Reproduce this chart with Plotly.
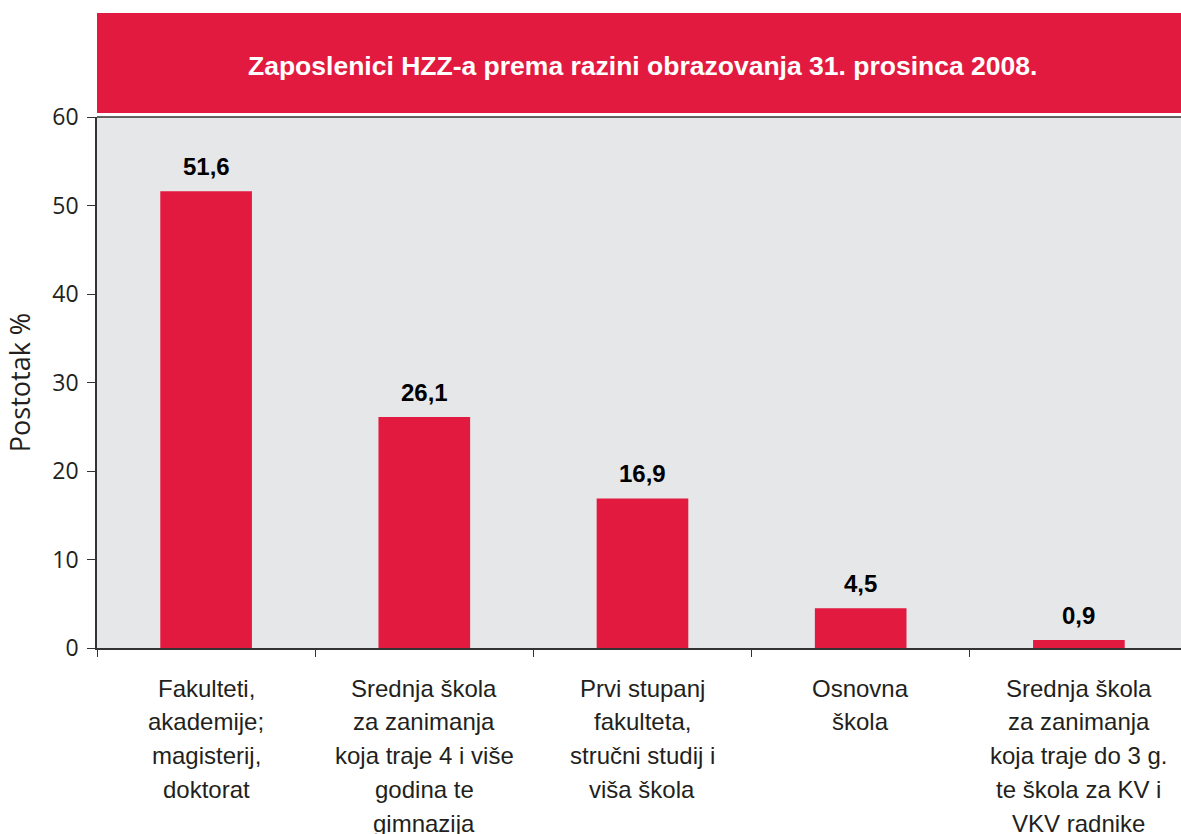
import plotly.graph_objects as go

categories = [
    "Fakulteti, akademije; magisterij, doktorat",
    "Srednja škola za zanimanja koja traje 4 i više godina te gimnazija",
    "Prvi stupanj fakulteta, stručni studij i viša škola",
    "Osnovna škola",
    "Srednja škola za zanimanja koja traje do 3 g. te škola za KV i VKV radnike",
]
label_lines = [
    ["Fakulteti,", "akademije;", "magisterij,", "doktorat"],
    ["Srednja škola", "za zanimanja", "koja traje 4 i više", "godina te", "gimnazija"],
    ["Prvi stupanj", "fakulteta,", "stručni studij i", "viša škola"],
    ["Osnovna", "škola"],
    ["Srednja škola", "za zanimanja", "koja traje do 3 g.", "te škola za KV i", "VKV radnike"],
]
values = [51.6, 26.1, 16.9, 4.5, 0.9]
value_labels = ["51,6", "26,1", "16,9", "4,5", "0,9"]
title_text = "Zaposlenici HZZ-a prema razini obrazovanja 31. prosinca 2008."

RED = "#E31A3F"
BG = "#E6E7E9"
FONT = "Liberation Sans, Arial, sans-serif"
AXFONT = "Open Sans, sans-serif"

fig = go.Figure()
fig.add_trace(go.Bar(
    x=categories, y=values, marker=dict(color=RED, line=dict(width=0)),
    width=0.42, hoverinfo="skip",
))

# value labels above bars
for c, v, t in zip(categories, values, value_labels):
    fig.add_annotation(x=c, y=v, xref="x", yref="y", text="<b>%s</b>" % t,
                       showarrow=False, yanchor="bottom", yshift=9,
                       font=dict(family=FONT, size=24, color="#000000"))

# category labels (multi-line)
for c, lines in zip(categories, label_lines):
    for j, ln in enumerate(lines):
        fig.add_annotation(x=c, y=0, xref="x", yref="y", text=ln,
                           showarrow=False, yanchor="middle", yshift=-40 - 33.8 * j,
                           font=dict(family=FONT, size=24, color="#231F20"))

# title banner
fig.add_shape(type="rect", xref="paper", yref="paper", x0=0, x1=1.01,
              y0=1.0075, y1=1.196, fillcolor=RED, line=dict(width=0), layer="above")
fig.add_annotation(xref="paper", yref="paper", x=0.503, y=1.096, text="<b>%s</b>" % title_text,
                   showarrow=False, xanchor="center", yanchor="middle",
                   font=dict(family=FONT, size=26.5, color="#FFFFFF"))
# top border of plot area
fig.add_shape(type="line", xref="paper", yref="paper", x0=0, x1=1.01, y0=1, y1=1,
              line=dict(color="#333333", width=1.5))

fig.update_layout(
    width=1181, height=834,
    margin=dict(l=97, r=0, t=117, b=186),
    paper_bgcolor="#FFFFFF", plot_bgcolor=BG,
    showlegend=False,
    font=dict(family=FONT, size=20, color="#231F20"),
    xaxis=dict(range=[-0.5, 4.468], showticklabels=False, tickson="boundaries",
               ticks="outside", ticklen=7, tickcolor="#333333",
               showline=True, linecolor="#333333", linewidth=1.5,
               showgrid=False, zeroline=False, fixedrange=True),
    yaxis=dict(range=[0, 60], tickvals=[0, 10, 20, 30, 40, 50, 60],
               ticks="outside", ticklen=8, tickcolor="#333333",
               showline=True, linecolor="#333333", linewidth=1.5,
               showgrid=False, zeroline=False, ticklabelstandoff=4,
               tickfont=dict(family=AXFONT, size=23, color="#231F20"),
               title=dict(text="Postotak %", font=dict(family=AXFONT, size=27, color="#231F20"),
                          standoff=14)),
)

fig.write_html("out.html", config={"displayModeBar": False},
               post_script="document.body.style.margin='0';document.body.style.overflow='hidden';")
